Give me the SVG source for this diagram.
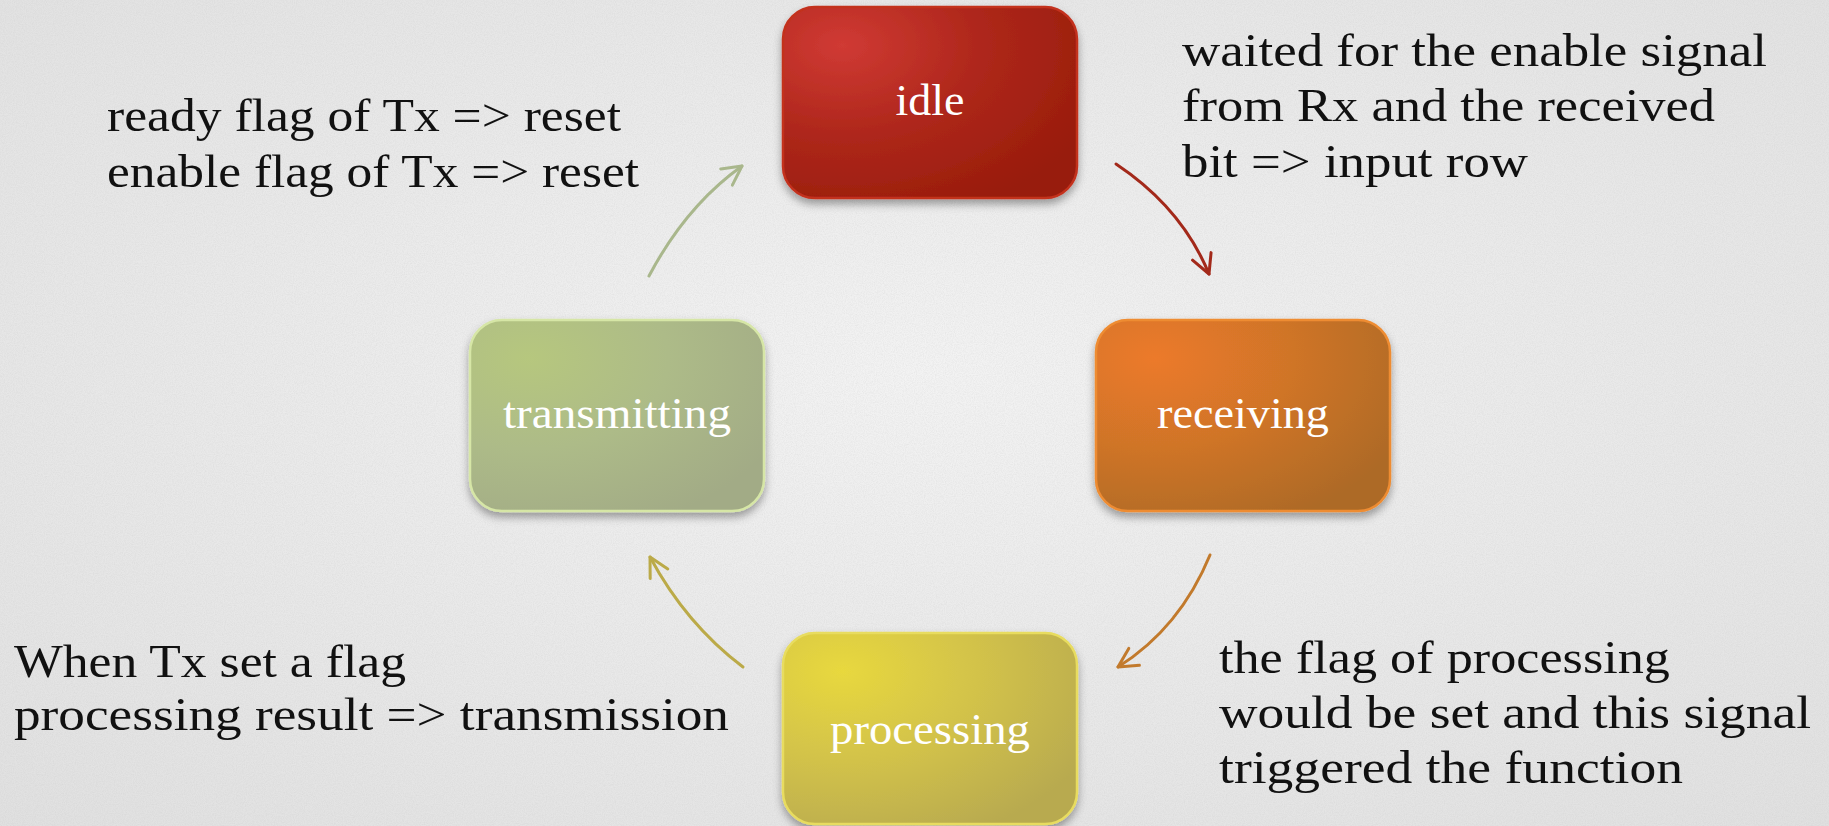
<svg xmlns="http://www.w3.org/2000/svg" width="1829" height="826" viewBox="0 0 1829 826">
  <defs>
    <radialGradient id="bg" cx="0.5" cy="0.45" r="0.75">
      <stop offset="0" stop-color="#f3f3f3"/>
      <stop offset="1" stop-color="#e0e0e0"/>
    </radialGradient>
    <filter id="paper" x="0" y="0" width="100%" height="100%">
      <feTurbulence type="fractalNoise" baseFrequency="0.9" numOctaves="2" seed="4" result="n"/>
      <feColorMatrix type="matrix" values="0 0 0 0 0.5  0 0 0 0 0.5  0 0 0 0 0.5  0 0 0 0.9 -0.3"/>
    </filter>
    <filter id="shadow" x="-10%" y="-10%" width="120%" height="130%">
      <feDropShadow dx="0" dy="5" stdDeviation="4" flood-color="#000" flood-opacity="0.35"/>
    </filter>
    <radialGradient id="gIdle" cx="0.2" cy="0.2" r="0.95">
      <stop offset="0" stop-color="#d03a34"/>
      <stop offset="0.5" stop-color="#ae271b"/>
      <stop offset="1" stop-color="#981c0a"/>
    </radialGradient>
    <radialGradient id="gRecv" cx="0.2" cy="0.2" r="0.95">
      <stop offset="0" stop-color="#ec7a2a"/>
      <stop offset="0.5" stop-color="#cf7428"/>
      <stop offset="1" stop-color="#ad6a26"/>
    </radialGradient>
    <radialGradient id="gProc" cx="0.2" cy="0.2" r="0.95">
      <stop offset="0" stop-color="#e8d83e"/>
      <stop offset="0.5" stop-color="#d2c24a"/>
      <stop offset="1" stop-color="#b8aa50"/>
    </radialGradient>
    <radialGradient id="gTx" cx="0.2" cy="0.2" r="0.95">
      <stop offset="0" stop-color="#b6c77e"/>
      <stop offset="0.5" stop-color="#adbb88"/>
      <stop offset="1" stop-color="#a2ab86"/>
    </radialGradient>
    <marker id="mRed" markerUnits="userSpaceOnUse" markerWidth="26" markerHeight="26" viewBox="0 0 26 26" refX="22" refY="13" orient="auto">
      <path d="M3,3 L22,13 L3,23" fill="none" stroke="#a3291a" stroke-width="3" stroke-linecap="round" stroke-linejoin="round"/>
    </marker>
    <marker id="mOrange" markerUnits="userSpaceOnUse" markerWidth="26" markerHeight="26" viewBox="0 0 26 26" refX="22" refY="13" orient="auto">
      <path d="M3,3 L22,13 L3,23" fill="none" stroke="#c27a2c" stroke-width="3" stroke-linecap="round" stroke-linejoin="round"/>
    </marker>
    <marker id="mYellow" markerUnits="userSpaceOnUse" markerWidth="26" markerHeight="26" viewBox="0 0 26 26" refX="22" refY="13" orient="auto">
      <path d="M3,3 L22,13 L3,23" fill="none" stroke="#bbaa48" stroke-width="3" stroke-linecap="round" stroke-linejoin="round"/>
    </marker>
    <marker id="mGreen" markerUnits="userSpaceOnUse" markerWidth="26" markerHeight="26" viewBox="0 0 26 26" refX="22" refY="13" orient="auto">
      <path d="M3,3 L22,13 L3,23" fill="none" stroke="#a9b78c" stroke-width="3" stroke-linecap="round" stroke-linejoin="round"/>
    </marker>
  </defs>
  <style>
    .box { stroke-width: 2.5; filter: url(#shadow); }
    .lbl { font-family: "Liberation Serif", "Times New Roman", serif; font-size: 45px; fill: #ffffff; text-anchor: middle; }
    .ann { font-family: "Liberation Serif", "Times New Roman", serif; font-size: 46px; fill: #111111; }
    .conn { fill: none; stroke-width: 3; stroke-linecap: round; }
  </style>

  <rect x="0" y="0" width="1829" height="826" fill="url(#bg)"/>
  <rect x="0" y="0" width="1829" height="826" filter="url(#paper)" opacity="0.4"/>

  <g id="connectors">
    <path class="conn" d="M1116,164 Q1182,208 1209,274" stroke="#a3291a" marker-end="url(#mRed)"/>
    <path class="conn" d="M1210,555 Q1180,628 1118,667" stroke="#c27a2c" marker-end="url(#mOrange)"/>
    <path class="conn" d="M743,667 Q686,624 650,557" stroke="#bbaa48" marker-end="url(#mYellow)"/>
    <path class="conn" d="M649,276 Q686,206 742,166" stroke="#a9b78c" marker-end="url(#mGreen)"/>
  </g>

  <g id="node-idle">
    <rect class="box" x="783" y="7" width="294" height="191" rx="32" fill="url(#gIdle)" stroke="#c3301f"/>
    <text class="lbl" x="930" y="115" textLength="69" lengthAdjust="spacingAndGlyphs">idle</text>
  </g>
  <g id="node-receiving">
    <rect class="box" x="1096" y="320" width="294" height="191" rx="32" fill="url(#gRecv)" stroke="#ee8c32"/>
    <text class="lbl" x="1243" y="428" textLength="172" lengthAdjust="spacingAndGlyphs">receiving</text>
  </g>
  <g id="node-processing">
    <rect class="box" x="783" y="633" width="294" height="191" rx="32" fill="url(#gProc)" stroke="#e8dc5e"/>
    <text class="lbl" x="930" y="744" textLength="200" lengthAdjust="spacingAndGlyphs">processing</text>
  </g>
  <g id="node-transmitting">
    <rect class="box" x="470" y="320" width="294" height="191" rx="32" fill="url(#gTx)" stroke="#d6e6a6"/>
    <text class="lbl" x="617" y="428" textLength="228" lengthAdjust="spacingAndGlyphs">transmitting</text>
  </g>

  <g id="annotations">
    <text class="ann" x="107" y="131" textLength="514" lengthAdjust="spacingAndGlyphs">ready flag of Tx =&gt; reset</text>
    <text class="ann" x="107" y="187" textLength="532" lengthAdjust="spacingAndGlyphs">enable flag of Tx =&gt; reset</text>

    <text class="ann" x="1182" y="66" textLength="585" lengthAdjust="spacingAndGlyphs">waited for the enable signal</text>
    <text class="ann" x="1182" y="121" textLength="533" lengthAdjust="spacingAndGlyphs">from Rx and the received</text>
    <text class="ann" x="1182" y="177" textLength="346" lengthAdjust="spacingAndGlyphs">bit =&gt; input row</text>

    <text class="ann" x="14" y="677" textLength="392" lengthAdjust="spacingAndGlyphs">When Tx set a flag</text>
    <text class="ann" x="14" y="730" textLength="715" lengthAdjust="spacingAndGlyphs">processing result =&gt; transmission</text>

    <text class="ann" x="1219" y="673" textLength="451" lengthAdjust="spacingAndGlyphs">the flag of processing</text>
    <text class="ann" x="1219" y="728" textLength="592" lengthAdjust="spacingAndGlyphs">would be set and this signal</text>
    <text class="ann" x="1219" y="783" textLength="464" lengthAdjust="spacingAndGlyphs">triggered the function</text>
  </g>
</svg>
